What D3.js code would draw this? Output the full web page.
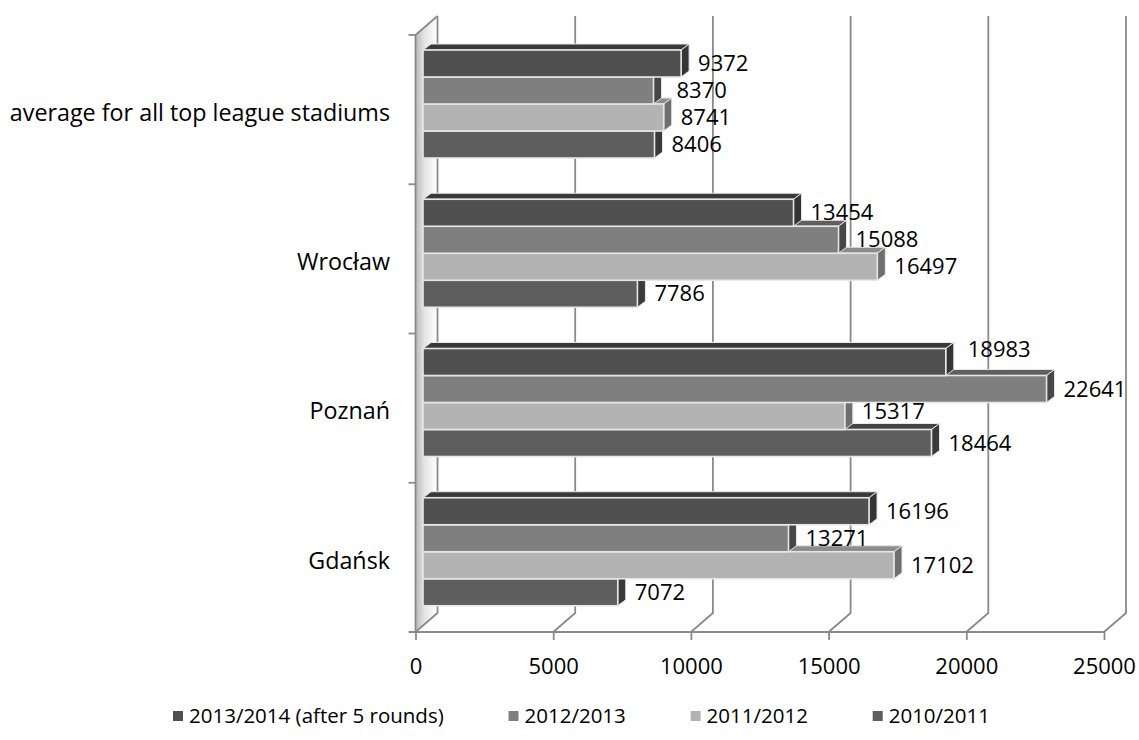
<!DOCTYPE html>
<html>
<head>
<meta charset="utf-8">
<script src="https://cdn.jsdelivr.net/npm/d3@7"></script>
<style>
  html, body { margin: 0; padding: 0; background: #ffffff; }
  svg { display: block; }
  text { font-family: "Open Sans", "Noto Sans", sans-serif; fill: #000; }
</style>
</head>
<body>
<svg id="chart" width="1139" height="740"></svg>
<script>
// Average attendance per stadium, by season
const categories = ["average for all top league stadiums", "Wrocław", "Poznań", "Gdańsk"];
const seriesNames = ["2013/2014 (after 5 rounds)", "2012/2013", "2011/2012", "2010/2011"];
const season2013_14 = [9372, 13454, 18983, 16196];
const season2012_13 = [8370, 15088, 22641, 13271];
const season2011_12 = [8741, 16497, 15317, 17102];
const season2010_11 = [8406, 7786, 18464, 7072];
const xTickValues = [0, 5000, 10000, 15000, 20000, 25000];

const seriesValues = [season2013_14, season2012_13, season2011_12, season2010_11];

// Face shades for each series: front, top, side
const shades = [
  { front: "#505050", top: "#393939", side: "#353535" },
  { front: "#7f7f7f", top: "#5f5f5f", side: "#474747" },
  { front: "#b3b3b3", top: "#8c8c8c", side: "#6e6e6e" },
  { front: "#5e5e5e", top: "#434343", side: "#3a3a3a" }
];

// Small manual shifts for labels that would collide
const labelShift = {
  "Poznań|2013/2014 (after 5 rounds)": { dx: 5, dy: -13 },
  "Poznań|2011/2012": { dx: 0, dy: -5 },
  "average for all top league stadiums|2012/2013": { dx: 6, dy: 0 }
};

const svg = d3.select("#chart");
const numSize = 22, catSize = 23.3, legendSize = 20.5;

// Geometry of the 3D box
const floorY = 632, axisTop = 35;
const depth = { dx: 22, dy: -19 };    // front-to-back offset of walls
const barPlane = { dx: 7.5, dy: -6 }; // offset of the bar front plane
const barDepth = { dx: 8, dy: -6 };   // thickness of each bar
const wallTop = axisTop + depth.dy;

const x = d3.scaleLinear().domain([0, 25000]).range([415.5, 1104]);
const yCat = d3.scaleBand().domain(categories).range([axisTop, floorY]).padding(0);
const ySer = d3.scaleBand().domain(seriesNames).range([0, 108]).padding(0);
const groupOffset = 15;

const defs = svg.append("defs");
const grad = defs.append("linearGradient").attr("id", "wallGrad")
  .attr("x1", "0%").attr("x2", "100%").attr("y1", "0%").attr("y2", "0%");
grad.append("stop").attr("offset", "0%").attr("stop-color", "#b8b8b8");
grad.append("stop").attr("offset", "40%").attr("stop-color", "#e4e4e4");
grad.append("stop").attr("offset", "100%").attr("stop-color", "#ffffff");

const gridColor = "#8a8a8a";

// Left side wall
svg.append("path")
  .attr("d", `M${x(0)},${axisTop} L${x(0) + depth.dx},${wallTop} L${x(0) + depth.dx},${floorY + depth.dy} L${x(0)},${floorY} Z`)
  .attr("fill", "url(#wallGrad)")
  .attr("stroke", "none");

// Back wall gridlines running down and onto the floor
svg.append("g").selectAll("path")
  .data(xTickValues)
  .join("path")
  .attr("d", t => `M${x(t) + depth.dx},${wallTop} V${floorY + depth.dy} L${x(t)},${floorY}`)
  .attr("fill", "none")
  .attr("stroke", gridColor)
  .attr("stroke-width", 1.8);

// Left wall edges
svg.append("path")
  .attr("d", `M${x(0)},${floorY} V${axisTop} L${x(0) + depth.dx},${wallTop}`)
  .attr("fill", "none")
  .attr("stroke", gridColor)
  .attr("stroke-width", 1.8);

// Category tick marks on the vertical axis
const catBounds = categories.map(c => yCat(c)).concat([floorY]);
svg.append("g").selectAll("line")
  .data(catBounds)
  .join("line")
  .attr("x1", x(0) - 7).attr("x2", x(0))
  .attr("y1", d => d).attr("y2", d => d)
  .attr("stroke", gridColor).attr("stroke-width", 1.8);

// Horizontal value axis along the front edge of the floor
const xAxis = d3.axisBottom(x).tickValues(xTickValues).tickSize(8).tickSizeOuter(0).tickFormat(d3.format("d"));
const axisG = svg.append("g").attr("transform", `translate(0,${floorY})`).call(xAxis);
axisG.select(".domain").attr("stroke", gridColor).attr("stroke-width", 1.8)
  .attr("d", `M${x(0) - 6},0 H${x(25000)}`);
axisG.selectAll(".tick line").attr("stroke", gridColor).attr("stroke-width", 1.8);
axisG.selectAll(".tick text")
  .attr("y", 34)
  .attr("dy", "0.35em")
  .style("font-family", "'Open Sans', sans-serif")
  .style("font-size", numSize + "px")
  .attr("fill", "#000");

// Build bar records, then draw from bottom of the chart upward so upper bars sit on top
const bars = [];
categories.forEach((c, ci) => {
  seriesNames.forEach((s, si) => {
    bars.push({ cat: c, ser: s, si, value: seriesValues[si][ci] });
  });
});
const barLeft = x(0) + barPlane.dx;
const bx = v => x(v) + barPlane.dx;
const barTop = d => yCat(d.cat) + groupOffset + ySer(d.ser);
const barH = ySer.bandwidth();

const drawOrder = bars.slice().reverse();
const barG = svg.append("g");
const edge = "#e6e6e6";
drawOrder.forEach(d => {
  const g = barG.append("g");
  const x0 = barLeft, x1 = bx(d.value);
  const y0 = barTop(d), y1 = y0 + barH;
  const sh = shades[d.si];
  // top face
  g.append("path")
    .attr("d", `M${x0},${y0} L${x0 + barDepth.dx},${y0 + barDepth.dy} L${x1 + barDepth.dx},${y0 + barDepth.dy} L${x1},${y0} Z`)
    .attr("fill", sh.top).attr("stroke", edge).attr("stroke-width", 1).attr("stroke-linejoin", "round");
  // side face
  g.append("path")
    .attr("d", `M${x1},${y0} L${x1 + barDepth.dx},${y0 + barDepth.dy} L${x1 + barDepth.dx},${y1 + barDepth.dy} L${x1},${y1} Z`)
    .attr("fill", sh.side).attr("stroke", edge).attr("stroke-width", 1).attr("stroke-linejoin", "round");
  // front face
  g.append("rect")
    .attr("x", x0).attr("y", y0)
    .attr("width", x1 - x0).attr("height", barH)
    .attr("fill", sh.front).attr("stroke", edge).attr("stroke-width", 1.6);
});

// Value labels
svg.append("g").selectAll("text")
  .data(bars)
  .join("text")
  .attr("x", d => bx(d.value) + barDepth.dx + 9 + ((labelShift[d.cat + "|" + d.ser] || {}).dx || 0))
  .attr("y", d => barTop(d) + barH / 2 + ((labelShift[d.cat + "|" + d.ser] || {}).dy || 0))
  .attr("dy", "0.35em")
  .style("font-size", numSize + "px")
  .text(d => d.value);

// Category labels
svg.append("g").selectAll("text")
  .data(categories)
  .join("text")
  .attr("x", 390)
  .attr("y", c => yCat(c) + yCat.bandwidth() / 2 + 3)
  .attr("dy", "0.35em")
  .attr("text-anchor", "end")
  .style("font-size", catSize + "px")
  .text(c => c);

// Legend, entries spread evenly across the span below the axis
const legend = svg.append("g").attr("transform", "translate(0,716)");
const items = legend.selectAll("g").data(seriesNames).join("g");
items.append("rect").attr("width", 10).attr("height", 10).attr("y", -5)
  .attr("fill", (d, i) => shades[i].front);
items.append("text").attr("x", 16).attr("dy", "0.35em")
  .style("font-size", legendSize + "px").text(d => d);
const legendLeft = 173, legendRight = 990;
const widths = [];
items.each(function () { widths.push(this.getBBox().width); });
const gap = (legendRight - legendLeft - d3.sum(widths)) / (widths.length - 1);
let cursor = legendLeft;
items.each(function (d, i) {
  d3.select(this).attr("transform", `translate(${cursor},0)`);
  cursor += widths[i] + gap;
});
</script>
</body>
</html>
